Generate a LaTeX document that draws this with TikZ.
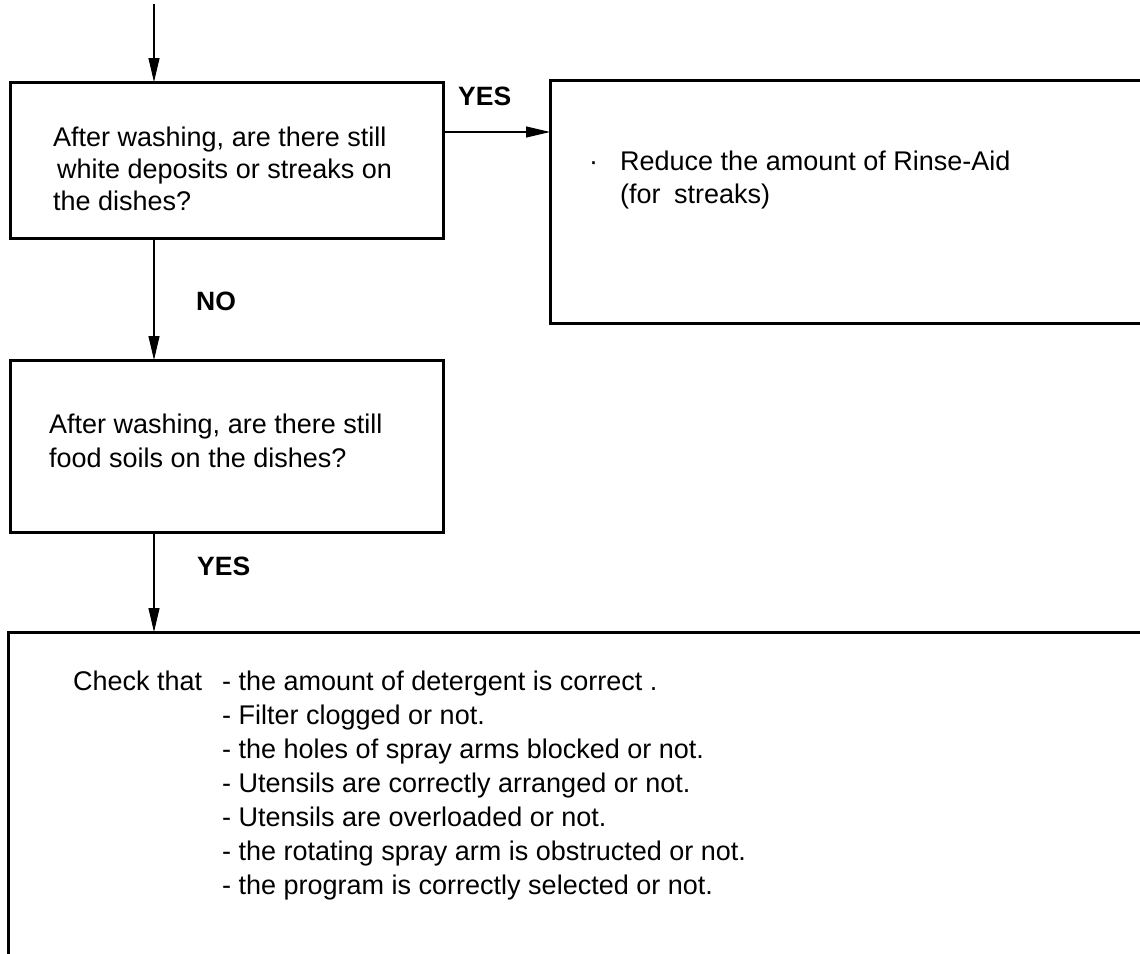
\documentclass[tikz,border=0pt]{standalone}
\usepackage{fontspec}
\setmainfont{Liberation Sans}
\usetikzlibrary{arrows.meta}
\begin{document}
\begin{tikzpicture}[x=1pt,y=1pt,
  box/.style={draw, line width=3pt, rectangle, inner sep=0pt, outer sep=0pt, anchor=north west},
  txt/.style={inner sep=0pt, anchor=north west, align=left},
  lbl/.style={inner sep=0pt, anchor=west, font=\fontsize{26.5}{32}\selectfont\bfseries},
  arr/.style={line width=1.2pt, -{Triangle[length=24pt,width=11pt]}}
]
\useasboundingbox (0,0) rectangle (1140,-953);
\clip (0,0) rectangle (1140,-953);
% boxes
\node[box, minimum width=433pt, minimum height=156pt] (q1) at (10,-82) {};
\node[box, minimum width=620pt, minimum height=243pt] (r1) at (550,-80) {};
\node[box, minimum width=433pt, minimum height=172pt] (q2) at (10,-360) {};
\node[box, minimum width=1160pt, minimum height=360pt] (chk) at (8,-632) {};
% texts
\node[txt, font=\fontsize{27}{32}\selectfont] (q1t) at (53,-126.3)
  {After washing, are there still\\\hspace*{4pt}white deposits or streaks on\\the dishes?};
\node[txt, font=\fontsize{27}{33}\selectfont] (r1t) at (620,-150.3)
  {\llap{·\hspace{22pt}}Reduce the amount of Rinse-Aid\\(for\hspace{6pt} streaks)};
\node[txt, font=\fontsize{27}{34}\selectfont] (q2t) at (49,-413.3)
  {After washing, are there still\\food soils on the dishes?};
\node[txt, font=\fontsize{27}{34}\selectfont] (chkt) at (73,-670.3)
  {\makebox[149pt][l]{Check that}- the amount of detergent is correct .\\
   \hspace*{149pt}- Filter clogged or not.\\
   \hspace*{149pt}- the holes of spray arms blocked or not.\\
   \hspace*{149pt}- Utensils are correctly arranged or not.\\
   \hspace*{149pt}- Utensils are overloaded or not.\\
   \hspace*{149pt}- the rotating spray arm is obstructed or not.\\
   \hspace*{149pt}- the program is correctly selected or not.};
% labels
\node[lbl] (yes1) at (458,-96) {YES};
\node[lbl] (no) at (196,-301) {NO};
\node[lbl] (yes2) at (197,-566) {YES};
% connectors
\coordinate (top) at (154,-4);
\coordinate (yy) at (0,-132);
\draw[arr] (top) -- (top |- q1.north);
\draw[arr] (q1.south -| top) -- (q2.north -| top);
\draw[arr] (q2.south -| top) -- (chk.north -| top);
\draw[arr] (q1.east |- yy) -- (r1.west |- yy);
\end{tikzpicture}
\end{document}
